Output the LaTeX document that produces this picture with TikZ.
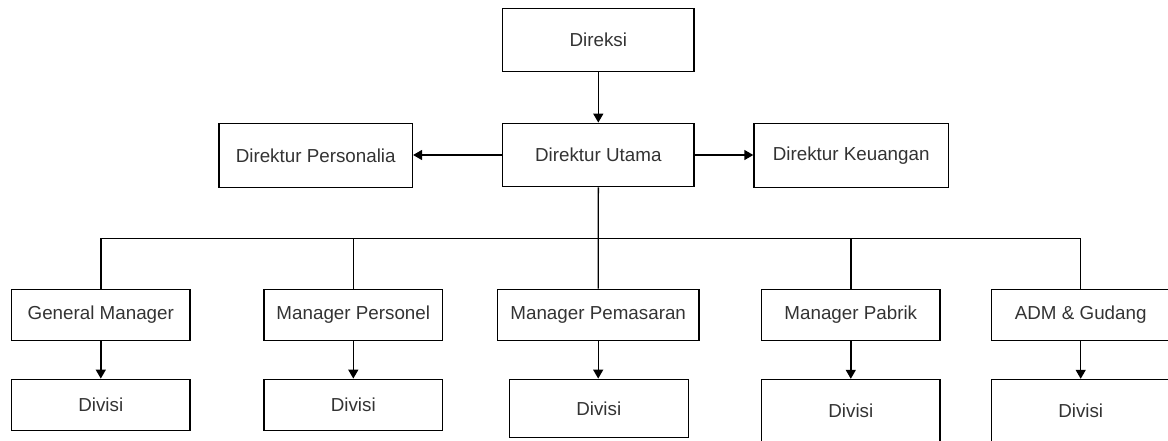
\documentclass[tikz,border=0pt]{standalone}
\usepackage{fontspec}
\setmainfont{Liberation Sans}
\usetikzlibrary{arrows.meta}
\begin{document}
\begin{tikzpicture}[x=0.5pt,y=-0.5pt,line width=0.7pt,
	box/.style={draw,inner sep=0pt,font=\fontsize{9.4}{11}\selectfont,text=black!80},
	top/.style={box,minimum width=95.7pt,minimum height=31.7pt},
	mgr/.style={box,minimum width=89.2pt,minimum height=25.7pt},
	arr/.style={-{Triangle[length=4.5pt,width=5pt]}}]
	\useasboundingbox (0,0) rectangle (1168,440);
	% direksi dan direktur
	\node[top] (direksi) at (598.3,40) {Direksi};
	\node[top] (utama) at (598.3,155) {Direktur Utama};
	\node[top,minimum width=96.7pt,minimum height=32pt] (personalia) at (315.7,155.3) {Direktur Personalia};
	\node[top,minimum width=97.2pt,minimum height=32pt] (keuangan) at (851.2,155.3) {Direktur Keuangan};
	% manager
	\node[mgr] (gm) at (100.8,315) {General Manager};
	\node[mgr] (mpers) at (353.3,315) {Manager Personel};
	\node[mgr,minimum width=100.8pt] (mpem) at (598.2,315) {Manager Pemasaran};
	\node[mgr] (mpab) at (850.8,315) {Manager Pabrik};
	\node[mgr] (adm) at (1080.7,315) {ADM \& Gudang};
	% divisi
	\node[mgr] (d1) at (100.8,405) {Divisi};
	\node[mgr] (d2) at (353.3,405) {Divisi};
	\node[mgr,minimum width=89.5pt,minimum height=29pt] (d3) at (598.8,408.3) {Divisi};
	\node[mgr,minimum height=31.5pt] (d4) at (850.8,411) {Divisi};
	\node[mgr,minimum height=31.5pt] (d5) at (1080.7,411) {Divisi};
	\coordinate (bus) at (598.3,238.3);
	\draw[arr] (direksi) -- (utama);
	\draw[arr] (utama.west) -- (utama.west -| personalia.east);
	\draw[arr] (utama.east) -- (utama.east -| keuangan.west);
	\draw (utama.south) -- (mpem.north);
	\draw (gm.north) -- (gm.north |- bus) -- (adm.north |- bus) -- (adm.north);
	\foreach \m in {mpers,mpab}
		\draw (\m.north) -- (\m.north |- bus);
	\foreach \m/\d in {gm/d1,mpers/d2,mpem/d3,mpab/d4,adm/d5}
		\draw[arr] (\m.south) -- (\m.south |- \d.north);
\end{tikzpicture}
\end{document}
